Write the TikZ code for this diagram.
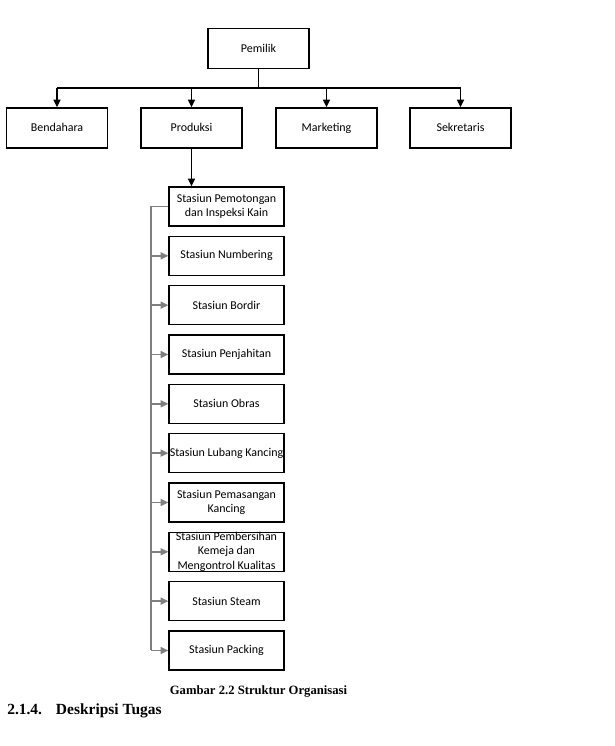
\documentclass[tikz,border=0pt]{standalone}
\usepackage{fontspec}
\setmainfont{Liberation Serif}
\newfontfamily\boxfont{Carlito}
\usepackage{xcolor}
\usetikzlibrary{positioning, arrows.meta}
\definecolor{chart-gray}{HTML}{7F7F7F}

\begin{document}
\begin{tikzpicture}[
    x=0.025cm, y=-0.025cm,
    unit/.style={draw, line width=0.9pt, minimum width=2.525cm, minimum height=1cm,
        inner sep=0pt, align=center, font=\boxfont\fontsize{8.5}{10}\selectfont},
    division/.style={unit, text height=1.6ex, text depth=0.45ex},
    station/.style={unit, minimum width=2.875cm, minimum height=0.975cm},
    mainline/.style={line width=1.1pt},
    mainarrow/.style={mainline, -{Triangle[length=5.5pt, width=5pt]}},
    sideline/.style={chart-gray, line width=1pt},
    sidearrow/.style={sideline, -{Triangle[length=5.5pt, width=5pt]}},
]
    \useasboundingbox (0,0) rectangle (614,746);

    % Owner and the four divisions
    \node[division] (pemilik) at (258.5, 48.5) {Pemilik};
    \node[division] (bendahara) at (57, 128) {Bendahara};
    \node[division] (produksi) at (191.5, 128) {Produksi};
    \node[division] (marketing) at (326.5, 128) {Marketing};
    \node[division] (sekretaris) at (460.5, 128) {Sekretaris};

    \coordinate (bus) at (258.5, 88);
    \draw[mainline] (pemilik.south) -- (bus);
    \draw[mainline] (bus -| bendahara.north) -- (bus -| sekretaris.north);
    \foreach \div in {bendahara, produksi, marketing, sekretaris}
        \draw[mainarrow] (bus -| \div.north) -- (\div.north);

    % Production stations
    \foreach \i/\txt in {1/{Stasiun Pemotongan\\dan Inspeksi Kain},
                         2/{Stasiun Numbering},
                         3/{Stasiun Bordir},
                         4/{Stasiun Penjahitan},
                         5/{Stasiun Obras},
                         6/{Stasiun Lubang Kancing},
                         7/{Stasiun Pemasangan\\Kancing},
                         8/{Stasiun Pembersihan\\Kemeja dan\\Mengontrol Kualitas},
                         9/{Stasiun Steam},
                         10/{Stasiun Packing}}
        \node[station] (st\i) at (226.5, {206.5 + 49.33*(\i-1)}) {\txt};

    \draw[mainarrow] (produksi.south) -- (produksi.south |- st1.north);

    \coordinate (spine) at (151, 206.5);
    \draw[sideline] (st1.west) -- (st1.west -| spine) -- (st10.west -| spine);
    \foreach \i in {2,...,10}
        \draw[sidearrow] (st\i.west -| spine) -- (st\i.west);

    % Caption and next heading
    \node[font=\bfseries\fontsize{9}{11}\selectfont] (caption) at (258.5, 691)
        {Gambar 2.2 Struktur Organisasi};
    \node[anchor=west, inner sep=0pt, font=\bfseries\fontsize{11}{13}\selectfont] (heading) at (7, 711)
        {2.1.4.\hspace{0.9em}Deskripsi Tugas};
\end{tikzpicture}
\end{document}
